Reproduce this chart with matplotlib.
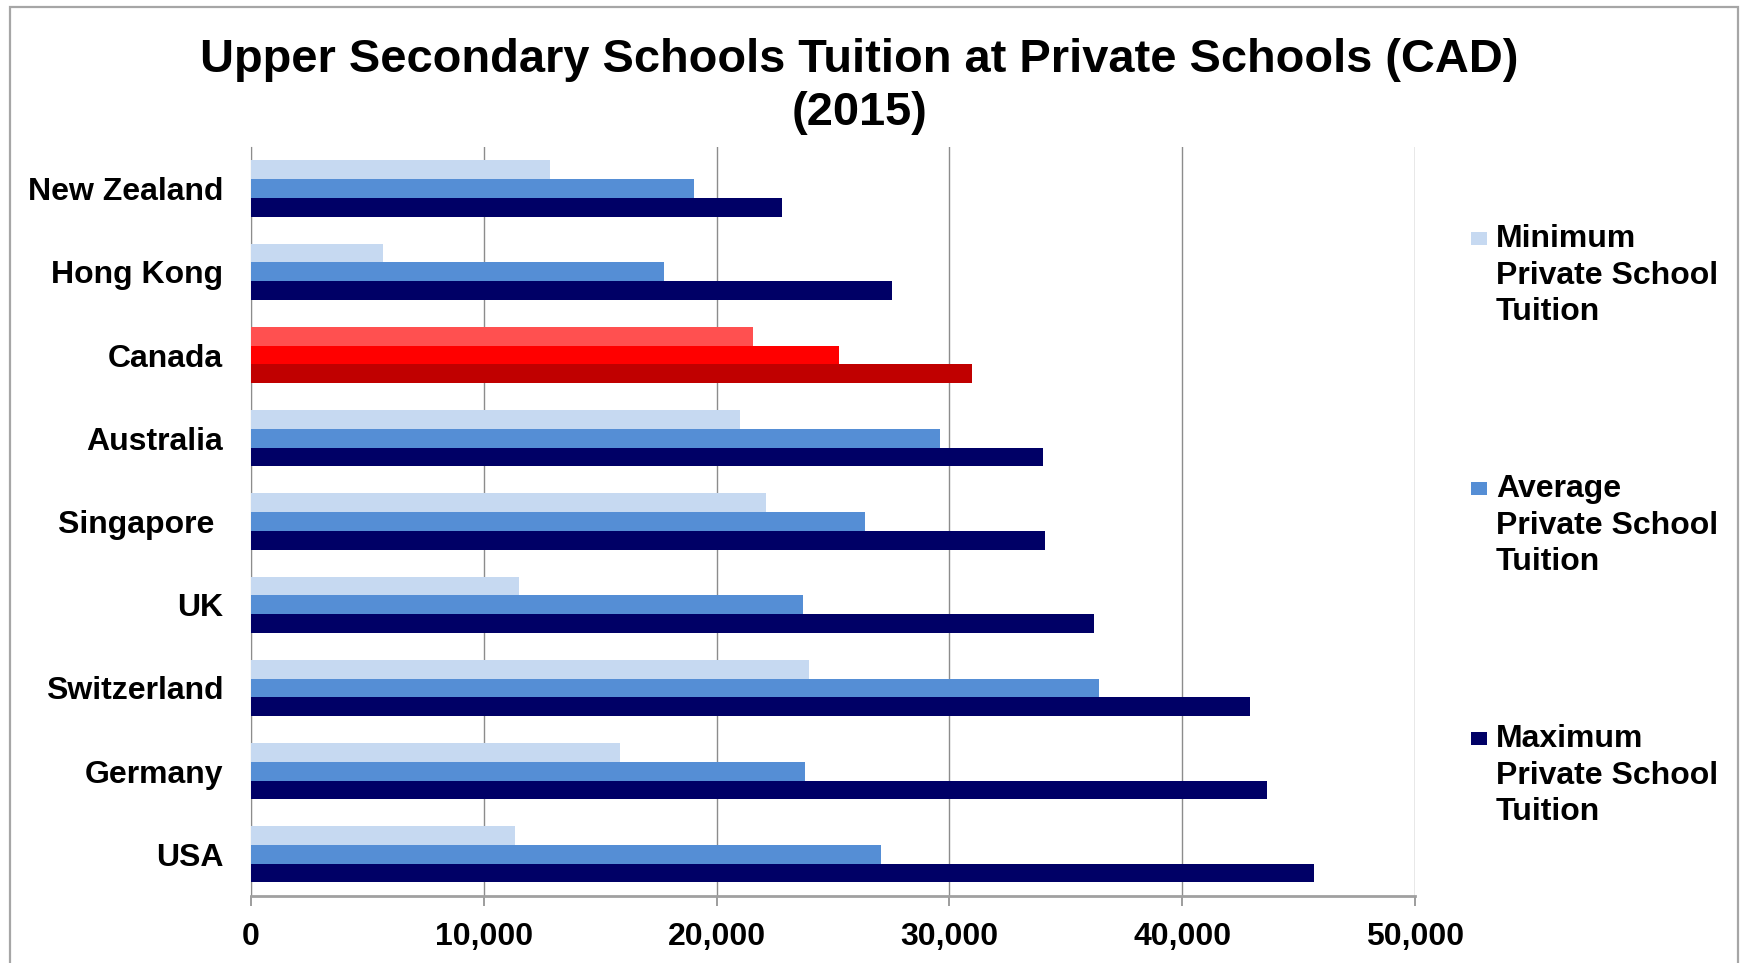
import matplotlib
matplotlib.use('Agg')
from matplotlib import pyplot as plt
from matplotlib.patches import Rectangle
import numpy as np

plt.rcParams['font.family'] = ['Liberation Sans', 'DejaVu Sans']
plt.rcParams['font.weight'] = 'bold'

countries = ['New Zealand', 'Hong Kong', 'Canada', 'Australia', 'Singapore ',
             'UK', 'Switzerland', 'Germany', 'USA']
min_tuition = [12830, 5690, 21570, 21020, 22140, 11510, 23970, 15870, 11350]
avg_tuition = [19040, 17740, 25270, 29580, 26360, 23730, 36430, 23810, 27060]
max_tuition = [22830, 27530, 30990, 34010, 34090, 36230, 42900, 43650, 45670]
series_names = [['Minimum', 'Private School', 'Tuition'],
                ['Average', 'Private School', 'Tuition'],
                ['Maximum', 'Private School', 'Tuition']]
blue_colors = ['#C6D9F1', '#558ED5', '#000066']
red_colors = ['#FF5050', '#FF0000', '#C00000']
highlight = 'Canada'
xticks = [0, 10000, 20000, 30000, 40000, 50000]

W, H = 1743, 963
fig = plt.figure(figsize=(W / 100, H / 100), dpi=100)
ax = fig.add_axes([0.1440, 0.0696, 0.6678, 0.7778])

# first country at the top
ypos = np.arange(len(countries))[::-1]
h = 0.225
offsets = [h, 0, -h]
for vals, off, bcol, rcol in zip([min_tuition, avg_tuition, max_tuition],
                                 offsets, blue_colors, red_colors):
    cols = [rcol if c == highlight else bcol for c in countries]
    ax.barh(ypos + off, vals, height=h, color=cols, zorder=3)

ax.set_xlim(0, 50000)
ax.set_ylim(-0.5, len(countries) - 0.5)
ax.set_xticks(xticks)
ax.set_xticklabels(['{:,}'.format(v) for v in xticks], fontsize=23, fontweight='bold')
ax.set_yticks(ypos)
ax.set_yticklabels(countries, fontsize=23, fontweight='bold')
ax.tick_params(axis='y', length=0, pad=20)
ax.tick_params(axis='x', length=7, width=1.2, color='#8C8C8C', pad=12)
ax.grid(axis='x', color='#8C8C8C', linewidth=1.0, zorder=0)
for s in ['top', 'right']:
    ax.spines[s].set_visible(False)
ax.spines['left'].set_color('#8C8C8C')
ax.spines['bottom'].set_color('#A0A0A0')
ax.spines['bottom'].set_linewidth(2.0)

fig.text(0.493, 1 - 72 / H, 'Upper Secondary Schools Tuition at Private Schools (CAD)',
         ha='center', va='baseline', fontsize=33.8, fontweight='bold')
fig.text(0.493, 1 - 125 / H, '(2015)',
         ha='center', va='baseline', fontsize=33.8, fontweight='bold')

# legend: square marker next to the first line of each entry
leg_base = [247, 497, 747]
for base, lines, col in zip(leg_base, series_names, blue_colors):
    fig.patches.append(Rectangle((1471 / W, 1 - (base - 2) / H), 16 / W, 13 / H,
                                 transform=fig.transFigure, facecolor=col,
                                 edgecolor='none'))
    for k, line in enumerate(lines):
        fig.text(1496 / W, 1 - (base + 36.5 * k) / H, line, ha='left', va='baseline',
                 fontsize=23, fontweight='bold')

fig.patches.append(Rectangle((10 / W, -0.05), 1728 / W, 0.05 + 1 - 7 / H,
                             transform=fig.transFigure, fill=False,
                             edgecolor='#A6A6A6', linewidth=1.6))

plt.savefig('out.png', dpi=100)
